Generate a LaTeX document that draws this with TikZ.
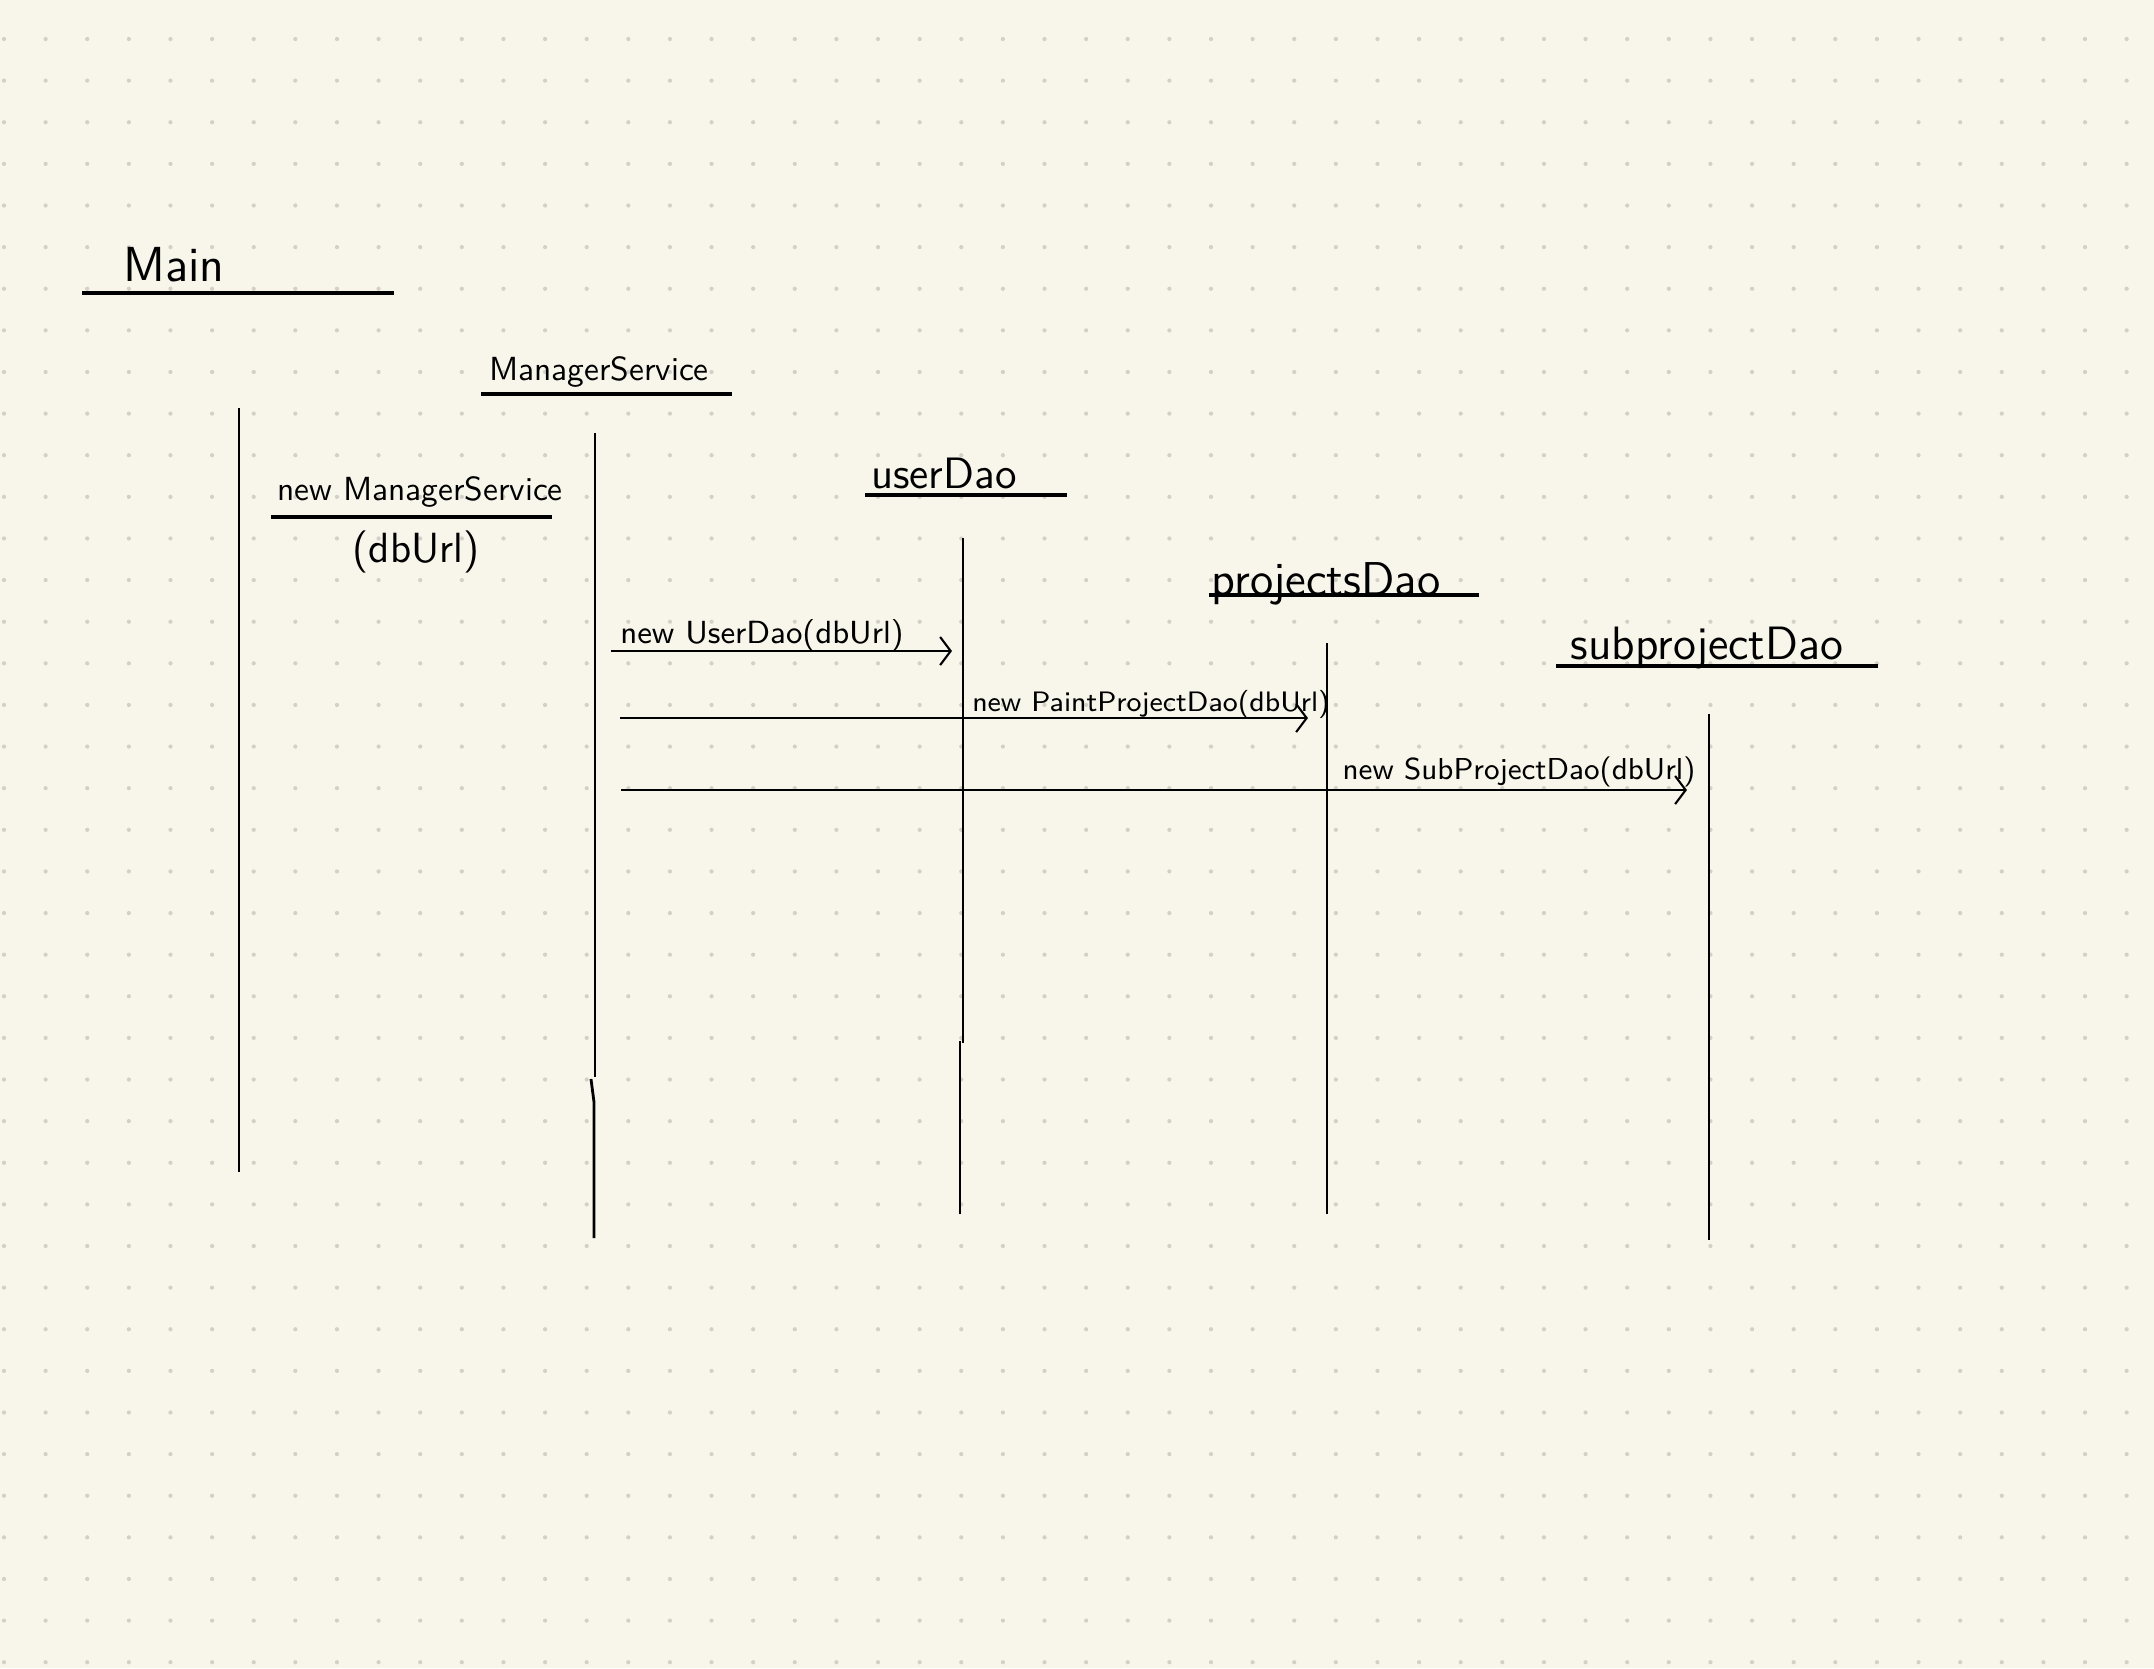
\documentclass[tikz,border=0pt]{standalone}
\usepackage{tikz}
\usetikzlibrary{arrows.meta}
\definecolor{paper}{HTML}{F8F6EB}
\definecolor{griddot}{HTML}{D3D0C7}
\tikzset{
  hand/.style = {inner sep=0pt, text=black, font=\sffamily},
  lifeline/.style = {line width=0.8pt, black},
  headline/.style = {line width=1pt, black},
  msg/.style = {-{Straight Barb[length=3pt,width=8pt]}, line width=0.6pt, black}
}

\begin{document}
\begin{tikzpicture}[x=0.01cm,y=-0.01cm]
  % paper with dot grid
  \fill[paper] (0,0) rectangle (2154,1668);
  \useasboundingbox (0,0) rectangle (2154,1668);
  \foreach \i in {0,...,51}
    \foreach \j in {0,...,39}
      \fill[griddot] (4+41.62*\i,39+41.62*\j) circle[radius=0.6pt];

  % object headings
  \node[hand, font=\sffamily\fontsize{14}{16}\selectfont] (main) at (174,265) {Main};
  \draw[headline] (82,293) -- (394,293);
  \node[hand, font=\sffamily\fontsize{9.5}{11}\selectfont] (mgr) at (599,372) {ManagerService};
  \draw[headline] (481,394) -- (732,394);
  \node[hand, font=\sffamily\fontsize{12.5}{14}\selectfont] (udao) at (944,473) {userDao};
  \draw[headline] (865,495) -- (1067,495);
  \node[hand, font=\sffamily\fontsize{13.5}{15}\selectfont] (pdao) at (1326,584) {projectsDao};
  \draw[headline] (1209,595) -- (1479,595);
  \node[hand, font=\sffamily\fontsize{13.3}{15}\selectfont] (sdao) at (1707,648) {subprojectDao};
  \draw[headline] (1556,666) -- (1878,666);

  % lifelines
  \coordinate (main-top) at (239,408);
  \coordinate (main-end) at (239,1172);
  \coordinate (mgr-top) at (595,433);
  \coordinate (mgr-brk) at (595,1077);
  \coordinate (mgr-jog) at (591,1079);
  \coordinate (mgr-end) at (594,1238);
  \coordinate (udao-top) at (963,538);
  \coordinate (udao-brk) at (963,1043);
  \coordinate (udao-jog) at (960,1041);
  \coordinate (udao-end) at (960,1214);
  \coordinate (pdao-top) at (1327,643);
  \coordinate (pdao-end) at (1327,1214);
  \coordinate (sdao-top) at (1709,714);
  \coordinate (sdao-end) at (1709,1240);
  \draw[lifeline] (main-top) -- (main-end);
  \draw[lifeline] (mgr-top) -- (mgr-brk);
  \draw[lifeline] (mgr-jog) -- (594,1102) -- (mgr-end);
  \draw[lifeline] (udao-top) -- (udao-brk);
  \draw[lifeline] (udao-jog) -- (udao-end);
  \draw[lifeline] (pdao-top) -- (pdao-end);
  \draw[lifeline] (sdao-top) -- (sdao-end);

  % call from Main
  \node[hand, font=\sffamily\fontsize{9.5}{11}\selectfont] (newmgr) at (420,492) {new ManagerService};
  \draw[headline] (271,517) -- (552,517);
  \node[hand, font=\sffamily\fontsize{12}{14}\selectfont] (newmgr-arg) at (416,552) {(dbUrl)};

  % calls from ManagerService
  \coordinate (m1-from) at (611,651);
  \coordinate (m1-to) at (952,651);
  \coordinate (m2-from) at (620,718);
  \coordinate (m2-to) at (1308,718);
  \coordinate (m3-from) at (621,790);
  \coordinate (m3-to) at (1687,790);
  \draw[msg] (m1-from) -- (m1-to);
  \node[hand, font=\sffamily\fontsize{9.1}{11}\selectfont] (m1) at (762,635) {new UserDao(dbUrl)};
  \draw[msg] (m2-from) -- (m2-to);
  \node[hand, font=\sffamily\fontsize{8}{10}\selectfont] (m2) at (1151,704) {new PaintProjectDao(dbUrl)};
  \draw[msg] (m3-from) -- (m3-to);
  \node[hand, font=\sffamily\fontsize{8.6}{10}\selectfont] (m3) at (1519,772) {new SubProjectDao(dbUrl)};
\end{tikzpicture}
\end{document}
